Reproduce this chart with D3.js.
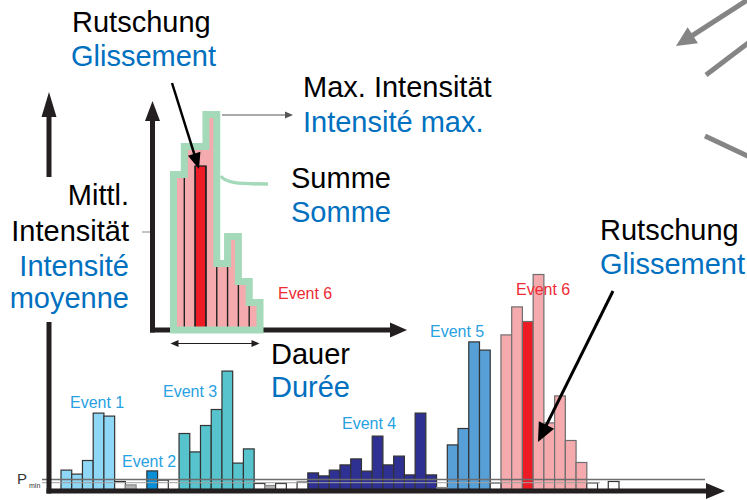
<!DOCTYPE html>
<html>
<head>
<meta charset="utf-8">
<script src="https://cdn.jsdelivr.net/npm/d3@7/dist/d3.min.js"></script>
<style>
  body { margin: 0; background: #fff; }
  svg { display: block; }
  text { font-family: "Liberation Sans", Arial, sans-serif; }
</style>
</head>
<body>
<svg id="chart" width="747" height="500"></svg>
<script>
// hourly intensity per rain event (y units, 0-100)
const event1 = [9.7, 7.7, 14.5, 38.2, 36.7];
const event2 = [9.3];
const event3 = [28, 18.8, 32, 40, 59.2, 13.2, 20.3];
const event4 = [8.3, 6.8, 9.7, 12.3, 15.3, 9.2, 26.7, 12.3, 16.7, 7.3, 38.2, 7.3];
const event5 = [22.3, 30.5, 73.8, 69.7];
const event6 = [77.3, 91.3, 84, 107.5, 33.3, 46.8, 24.5, 13.5];
const eventSeries = [event1, event2, event3, event4, event5, event6];
const eventStart = [0, 8, 11, 23, 36, 41];
const eventNames = ['Event 1', 'Event 2', 'Event 3', 'Event 4', 'Event 5', 'Event 6'];
const eventColors = ['#8fd7f6', '#0a8fd6', '#56c3cd', '#2e3192', '#579fd7', '#f5aaae'];

// hours below the threshold
const minorHours = [5, 6, 9, 18, 19, 20, 22, 35, 40, 49, 51];
const minorValues = [4, 2.3, 4.7, 3, 2, 3, 3.7, 1, 3.3, 3.3, 4];
const minorGrey = [6, 19, 35];

const hourCount = 52;
const slideHour = 43;
const pmin = 5;
const pminLow = 3.4;

// inset: event 6 in detail
const insetValues = [77.8, 91.8, 91.8, 107.8, 33.3, 46.8, 24.3, 13.8];
const insetSlideIndex = 2;
const insetSlideValue = 82;
const insetMean = 49;

const svg = d3.select('#chart');
const g = svg.append('g');

const black = '#231f20';
const frBlue = '#0070c0';
const evBlue = '#27a1e1';
const evRed = '#ee2a35';
const green = '#a4d9b9';

const x = d3.scaleBand().domain(d3.range(hourCount)).range([61, 619]);
const y = d3.scaleLinear().domain([0, 100]).range([489.5, 289.5]);

// helper: straight arrow with filled head
function arrow(sel, x1, y1, x2, y2, o) {
  const dx = x2 - x1, dy = y2 - y1, len = Math.hypot(dx, dy);
  const ux = dx / len, uy = dy / len;
  const head = (tx, ty, sx, sy) => {
    const bx = tx - sx * o.headLen, by = ty - sy * o.headLen;
    sel.append('polygon')
      .attr('points', [[tx, ty], [bx - sy * o.headW / 2, by + sx * o.headW / 2], [bx + sy * o.headW / 2, by - sx * o.headW / 2]].join(' '))
      .attr('fill', o.stroke);
  };
  const sx = o.both ? x1 + ux * o.headLen * 0.8 : x1;
  const sy = o.both ? y1 + uy * o.headLen * 0.8 : y1;
  sel.append('line')
    .attr('x1', sx).attr('y1', sy)
    .attr('x2', x2 - ux * o.headLen * 0.8).attr('y2', y2 - uy * o.headLen * 0.8)
    .attr('stroke', o.stroke).attr('stroke-width', o.width);
  head(x2, y2, ux, uy);
  if (o.both) head(x1, y1, -ux, -uy);
}

// ---- main bars
const bars = [];
eventSeries.forEach((vals, e) => {
  vals.forEach((v, i) => {
    const h = eventStart[e] + i;
    bars.push({ h, v, fill: h === slideHour ? '#ed1c24' : eventColors[e], stroke: e === 5 ? '#6e6e6e' : '#333' });
  });
});
minorHours.forEach((h, i) => {
  bars.push({ h, v: minorValues[i], fill: minorGrey.includes(h) ? '#b5b5b5' : '#fff', stroke: minorGrey.includes(h) ? '#888' : '#333' });
});

g.selectAll('.bar').data(bars).enter().append('rect')
  .attr('class', 'bar')
  .attr('x', d => x(d.h))
  .attr('y', d => y(d.v))
  .attr('width', x.bandwidth())
  .attr('height', d => y(0) - y(d.v))
  .attr('fill', d => d.fill)
  .attr('stroke', d => d.stroke)
  .attr('stroke-width', 1.2);

// threshold lines
g.append('line').attr('x1', 42).attr('x2', 705).attr('y1', y(pmin)).attr('y2', y(pmin))
  .attr('stroke', '#6d6d6d').attr('stroke-width', 1.4);
g.append('line').attr('x1', 42).attr('x2', 600).attr('y1', y(pminLow)).attr('y2', y(pminLow))
  .attr('stroke', '#a0a0a0').attr('stroke-width', 1);

g.append('text').attr('x', 17).attr('y', 484).attr('fill', '#333').attr('font-size', 15).text('P');
g.append('text').attr('x', 29).attr('y', 488).attr('fill', '#333').attr('font-size', 7).text('min');

// main axes
g.append('line').attr('x1', 46.5).attr('x2', 708).attr('y1', 491).attr('y2', 491)
  .attr('stroke', black).attr('stroke-width', 5);
g.append('polygon').attr('points', '725,491 706,483 706,499').attr('fill', black);
g.append('line').attr('x1', 49).attr('x2', 49).attr('y1', 493.5).attr('y2', 322)
  .attr('stroke', black).attr('stroke-width', 5);
g.append('line').attr('x1', 49).attr('x2', 49).attr('y1', 177).attr('y2', 114)
  .attr('stroke', black).attr('stroke-width', 5);
g.append('polygon').attr('points', '49,92 41.5,117 56.5,117').attr('fill', black);

// event labels
const labelPos = [[70, 408], [122, 467], [163, 397], [342, 429], [430, 337], [516, 295]];
g.selectAll('.evlabel').data(eventNames).enter().append('text')
  .attr('class', 'evlabel')
  .attr('x', (d, i) => labelPos[i][0])
  .attr('y', (d, i) => labelPos[i][1])
  .attr('font-size', 16)
  .attr('fill', (d, i) => i === 5 ? evRed : evBlue)
  .text(d => d);

// ---- inset
const xi = d3.scaleBand().domain(d3.range(insetValues.length)).range([173.5, 260]);
const yi = d3.scaleLinear().domain([0, 100]).range([330, 130]);
const bw = xi.bandwidth();
const ins = g.append('g');

ins.append('line').attr('x1', 150).attr('x2', 392).attr('y1', 330).attr('y2', 330)
  .attr('stroke', black).attr('stroke-width', 5);
ins.append('polygon').attr('points', '407,330 390,322.5 390,337.5').attr('fill', black);
ins.append('line').attr('x1', 152.5).attr('x2', 152.5).attr('y1', 332.5).attr('y2', 118)
  .attr('stroke', black).attr('stroke-width', 5);
ins.append('polygon').attr('points', '152.5,101 145,121 160,121').attr('fill', black);
ins.append('line').attr('x1', 142).attr('x2', 150).attr('y1', yi(insetMean)).attr('y2', yi(insetMean))
  .attr('stroke', '#888').attr('stroke-width', 1);

ins.selectAll('.ibar').data(insetValues).enter().append('rect')
  .attr('class', 'ibar')
  .attr('x', (d, i) => xi(i))
  .attr('y', d => yi(d))
  .attr('width', bw)
  .attr('height', d => yi(0) - yi(d))
  .attr('fill', '#f5aaae');
ins.append('rect')
  .attr('x', xi(insetSlideIndex)).attr('y', yi(insetSlideValue))
  .attr('width', bw).attr('height', yi(0) - yi(insetSlideValue))
  .attr('fill', '#ed1c24').attr('stroke', '#222').attr('stroke-width', 1.3);

const topOf = i => i === insetSlideIndex ? insetSlideValue : insetValues[i];
ins.selectAll('.idiv').data(d3.range(1, insetValues.length)).enter().append('line')
  .attr('class', 'idiv')
  .attr('x1', i => xi(i)).attr('x2', i => xi(i))
  .attr('y1', yi(0)).attr('y2', i => yi(Math.min(topOf(i - 1), topOf(i))))
  .attr('stroke', '#222').attr('stroke-width', 1.4);

const env = [[xi(0), yi(0)]];
insetValues.forEach((v, i) => { env.push([xi(i), yi(v)]); env.push([xi(i) + bw, yi(v)]); });
env.push([xi(insetValues.length - 1) + bw, yi(0)]);
ins.append('path').attr('d', d3.line()(env) + 'Z')
  .attr('fill', 'none').attr('stroke', green).attr('stroke-width', 7).attr('stroke-linejoin', 'miter');

// Summe leader
ins.append('path').attr('d', 'M221,176 C225,183 238,184 268,184')
  .attr('fill', 'none').attr('stroke', green).attr('stroke-width', 3.5);
// max intensity leader
arrow(ins, 222, 115, 293, 115, { stroke: '#555', width: 1.2, headLen: 8, headW: 7 });
// duration
arrow(ins, 170.5, 343.5, 259.5, 343.5, { stroke: black, width: 1.2, headLen: 8, headW: 7, both: true });
ins.append('text').attr('x', 278).attr('y', 299).attr('font-size', 16).attr('fill', evRed).text('Event 6');

// landslide arrows
arrow(g, 172, 83, 199, 169, { stroke: '#000', width: 2.5, headLen: 16, headW: 13 });
arrow(g, 613, 291, 538, 442, { stroke: '#000', width: 3, headLen: 19, headW: 17 });

// grey arrows top right
arrow(g, 752, -3, 676, 46, { stroke: '#858585', width: 5, headLen: 20, headW: 19 });
g.append('line').attr('x1', 706).attr('y1', 75).attr('x2', 752).attr('y2', 40)
  .attr('stroke', '#858585').attr('stroke-width', 5);
g.append('line').attr('x1', 705).attr('y1', 136).attr('x2', 752).attr('y2', 158)
  .attr('stroke', '#858585').attr('stroke-width', 5);

// ---- text labels
const fs = 29;
function label(txt, xx, yy, color, anchor) {
  g.append('text').attr('x', xx).attr('y', yy).attr('font-size', fs)
    .attr('fill', color).attr('text-anchor', anchor || 'start').text(txt);
}
label('Rutschung', 72, 32, '#000');
label('Glissement', 71, 66, frBlue);
label('Max. Intensität', 303, 97, '#000');
label('Intensité max.', 303, 132, frBlue);
label('Summe', 291, 188, '#000');
label('Somme', 291, 222, frBlue);
label('Mittl.', 129, 205, '#000', 'end');
label('Intensität', 129, 241, '#000', 'end');
label('Intensité', 129, 276, frBlue, 'end');
label('moyenne', 129, 308, frBlue, 'end');
label('Dauer', 271, 364, '#000');
label('Durée', 271, 397, frBlue);
label('Rutschung', 600, 240, '#000');
label('Glissement', 600, 274, frBlue);
</script>
</body>
</html>
